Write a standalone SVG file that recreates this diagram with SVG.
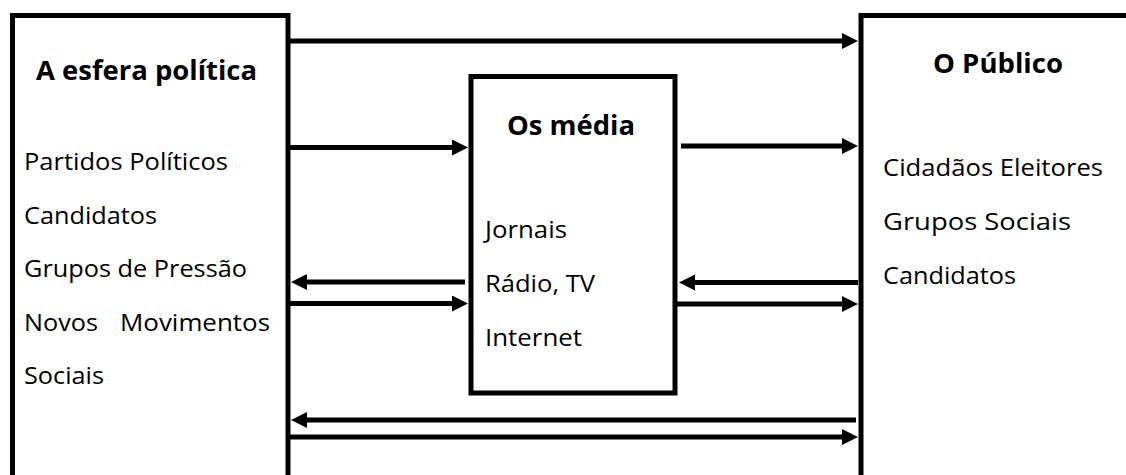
<svg xmlns="http://www.w3.org/2000/svg" width="1126" height="475" viewBox="0 0 1126 475">
  <style>
    .box { fill: #ffffff; stroke: #000000; stroke-width: 5; }
    .conn { stroke: #000000; stroke-width: 5; fill: none; marker-end: url(#arrow); }
    .head { font-family: "Open Sans", "Noto Sans", sans-serif; font-weight: bold; font-size: 26px; fill: #000000; }
    .item { font-family: "Open Sans", "Noto Sans", sans-serif; font-size: 23px; fill: #000000; }
  </style>
  <defs>
    <marker id="arrow" markerUnits="userSpaceOnUse" markerWidth="18" markerHeight="18" refX="2" refY="8" orient="auto">
      <path d="M0,0 L16,8 L0,16 Z" fill="#000000"/>
    </marker>
  </defs>
  <rect width="1126" height="475" fill="#ffffff"/>

  <g id="esfera-politica">
    <rect class="box" x="12.5" y="15.5" width="275.5" height="500"/>
    <text class="head" x="36" y="80" textLength="221" lengthAdjust="spacingAndGlyphs">A esfera política</text>
    <text class="item" x="24" y="170" textLength="204" lengthAdjust="spacingAndGlyphs">Partidos Políticos</text>
    <text class="item" x="24" y="223.5" textLength="133" lengthAdjust="spacingAndGlyphs">Candidatos</text>
    <text class="item" x="24" y="277" textLength="223" lengthAdjust="spacingAndGlyphs">Grupos de Pressão</text>
    <text class="item" x="24" y="330.5" textLength="74" lengthAdjust="spacingAndGlyphs">Novos</text>
    <text class="item" x="120" y="330.5" textLength="150" lengthAdjust="spacingAndGlyphs">Movimentos</text>
    <text class="item" x="24" y="384" textLength="80" lengthAdjust="spacingAndGlyphs">Sociais</text>
  </g>

  <g id="os-media">
    <rect class="box" x="471" y="76.5" width="204" height="316.5"/>
    <text class="head" x="507" y="135" textLength="128" lengthAdjust="spacingAndGlyphs">Os média</text>
    <text class="item" x="485" y="238" textLength="82" lengthAdjust="spacingAndGlyphs">Jornais</text>
    <text class="item" x="485" y="292" textLength="110" lengthAdjust="spacingAndGlyphs">Rádio, TV</text>
    <text class="item" x="485" y="345.5" textLength="97" lengthAdjust="spacingAndGlyphs">Internet</text>
  </g>

  <g id="o-publico">
    <rect class="box" x="861" y="15.5" width="300" height="500"/>
    <text class="head" x="933" y="73" textLength="130" lengthAdjust="spacingAndGlyphs">O Público</text>
    <text class="item" x="883" y="176" textLength="220" lengthAdjust="spacingAndGlyphs">Cidadãos Eleitores</text>
    <text class="item" x="883" y="230" textLength="188" lengthAdjust="spacingAndGlyphs">Grupos Sociais</text>
    <text class="item" x="883" y="284" textLength="133" lengthAdjust="spacingAndGlyphs">Candidatos</text>
  </g>

  <g id="connectors">
    <line class="conn" x1="290" y1="41" x2="844" y2="41"/>
    <line class="conn" x1="290" y1="147.5" x2="454" y2="147.5"/>
    <line class="conn" x1="681" y1="146" x2="844" y2="146"/>
    <line class="conn" x1="465" y1="282" x2="305" y2="282"/>
    <line class="conn" x1="290" y1="303.5" x2="454" y2="303.5"/>
    <line class="conn" x1="858" y1="282.5" x2="693" y2="282.5"/>
    <line class="conn" x1="677" y1="304" x2="844" y2="304"/>
    <line class="conn" x1="856" y1="420" x2="305" y2="420"/>
    <line class="conn" x1="290" y1="437" x2="844" y2="437"/>
  </g>
</svg>
